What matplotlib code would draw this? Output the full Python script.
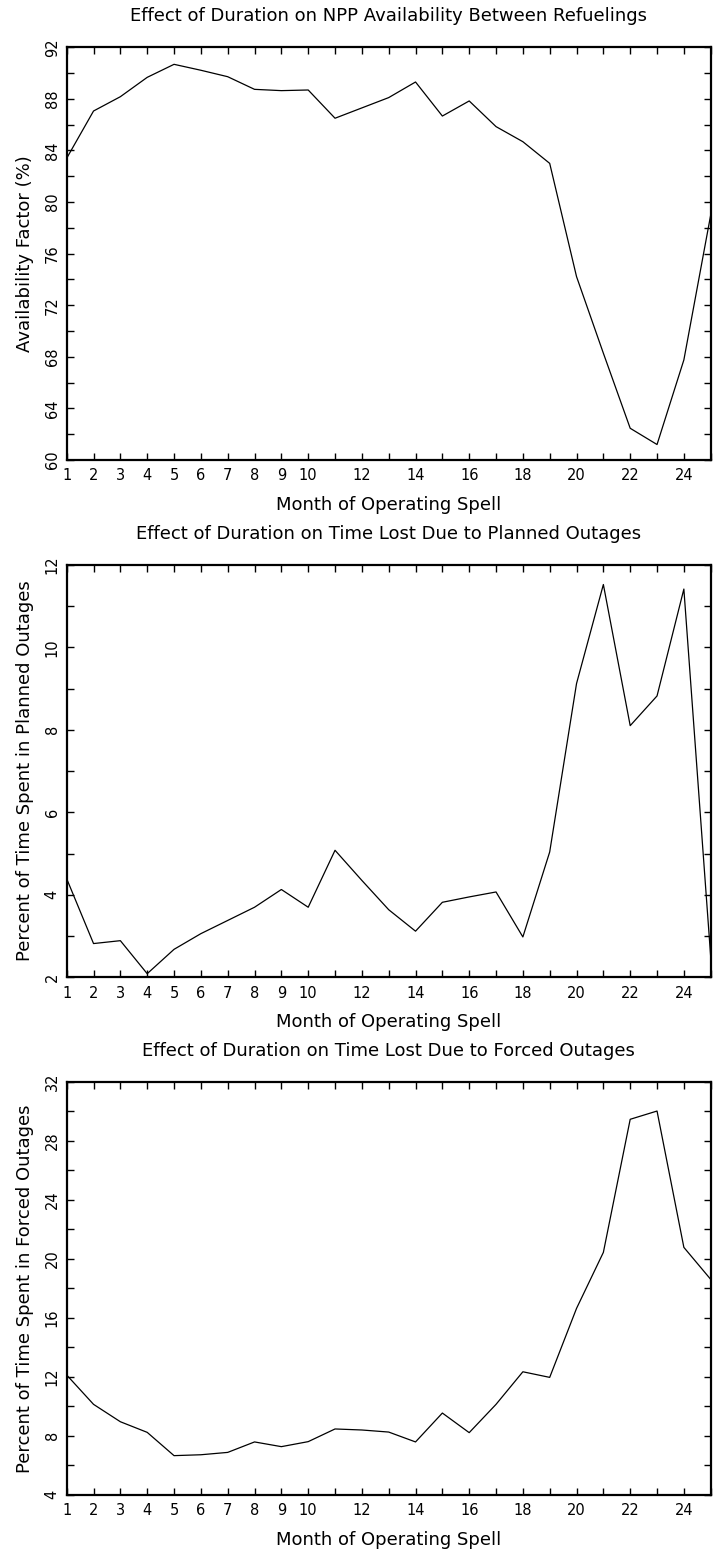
import matplotlib
matplotlib.use("Agg")
import matplotlib.pyplot as plt
from matplotlib.ticker import MultipleLocator

months = list(range(1, 26))
availability = [83.4, 87.06, 88.17, 89.67, 90.68, 90.22, 89.72, 88.74, 88.64, 88.69,
                86.5, 87.3, 88.1, 89.31, 86.67, 87.84, 85.85, 84.68, 83.0, 74.22,
                68.28, 62.46, 61.2, 67.76, 79.0]
planned = [4.39, 2.82, 2.89, 2.09, 2.68, 3.06, 3.38, 3.70, 4.13, 3.70,
           5.08, 4.35, 3.64, 3.12, 3.82, 3.95, 4.07, 2.98, 5.04, 9.12,
           11.52, 8.10, 8.82, 11.41, 2.5]
forced = [12.12, 10.13, 8.95, 8.23, 6.65, 6.71, 6.87, 7.58, 7.26, 7.6,
          8.46, 8.39, 8.25, 7.58, 9.54, 8.21, 10.13, 12.34, 11.96, 16.64,
          20.44, 29.47, 30.03, 20.78, 18.61]

xtick_labels = ["1", "2", "3", "4", "5", "6", "7", "8", "9", "10", "", "12", "",
                "14", "", "16", "", "18", "", "20", "", "22", "", "24", ""]

titles = ["Effect of Duration on NPP Availability Between Refuelings",
          "Effect of Duration on Time Lost Due to Planned Outages",
          "Effect of Duration on Time Lost Due to Forced Outages"]
ylabels = ["Availability Factor (%)",
           "Percent of Time Spent in Planned Outages",
           "Percent of Time Spent in Forced Outages"]
xlabel = "Month of Operating Spell"
ylims = [(60, 92), (2, 12), (4, 32)]
ymajor = [4, 2, 4]
yminor = [2, 1, 2]
series = [availability, planned, forced]

plt.rcParams['font.family'] = ['DejaVu Sans']

W, H = 714, 1555
fig = plt.figure(figsize=(W / 100, H / 100), dpi=100)

left_px, right_px = 66.7, 710.7
tops_px = [47.3, 564.7, 1082.0]
height_px = 412.7

for i in range(3):
    top = tops_px[i]
    ax = fig.add_axes([left_px / W, 1 - (top + height_px) / H,
                       (right_px - left_px) / W, height_px / H])
    ax.plot(months, series[i], color='black', linewidth=0.9)
    ax.set_xlim(1, 25)
    ax.set_ylim(*ylims[i])
    ax.set_xticks(months)
    ax.set_xticklabels(xtick_labels)
    ax.yaxis.set_major_locator(MultipleLocator(ymajor[i]))
    ax.yaxis.set_minor_locator(MultipleLocator(yminor[i]))
    ax.tick_params(axis='x', which='both', direction='in', top=True, bottom=True,
                   length=5, width=1, labelsize=10.5, pad=6)
    ax.tick_params(axis='y', which='both', direction='in', left=True, right=True,
                   length=5, width=1, labelsize=10.5, pad=5)
    for lab in ax.get_yticklabels():
        lab.set_rotation(90)
        lab.set_va('center')
    for sp in ax.spines.values():
        sp.set_linewidth(1.6)
    ax.text(0.5, 1 + 31 / height_px, titles[i], transform=ax.transAxes,
            ha='center', va='center', fontsize=13)
    ax.set_xlabel(xlabel, fontsize=13)
    ax.xaxis.set_label_coords(0.5, -45 / height_px)
    ax.xaxis.label.set_va('center')
    ax.set_ylabel(ylabels[i], fontsize=13)
    ax.yaxis.set_label_coords((25 - left_px) / (right_px - left_px), 0.5)
    ax.yaxis.label.set_va('center')

fig.savefig("out.png", dpi=100)
